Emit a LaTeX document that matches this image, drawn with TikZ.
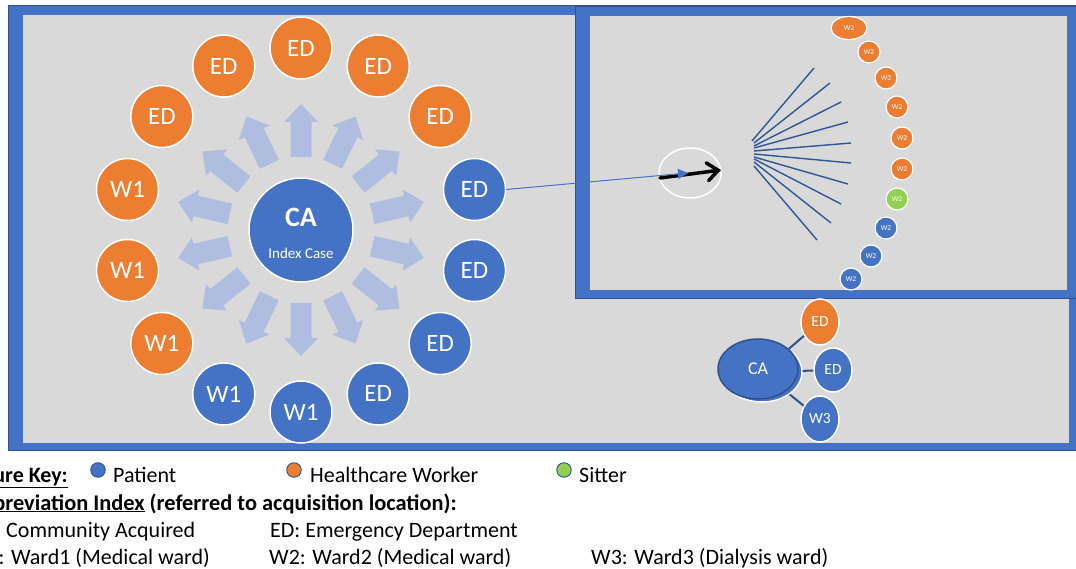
\documentclass[tikz,border=0pt]{standalone}
\usepackage{fontspec}
\setmainfont{Carlito}
\usetikzlibrary{arrows.meta,shapes.geometric}
\definecolor{frameblue}{HTML}{4472C4}
\definecolor{framedark}{HTML}{2F528F}
\definecolor{bggray}{HTML}{D9D9D9}
\definecolor{orng}{HTML}{ED7D31}
\definecolor{pblue}{HTML}{4472C4}
\definecolor{sgreen}{HTML}{92D050}
\definecolor{arrowcol}{HTML}{AFBEE0}
\definecolor{fanblue}{HTML}{2F5597}
\begin{document}
\begin{tikzpicture}[x=1pt,y=-1pt,
  ring/.style={circle,draw=white,line width=1.5pt,minimum size=62pt,inner sep=0pt,text=white,font=\fontsize{25}{30}\selectfont},
  wtwo/.style={circle,draw=white,line width=1.2pt,minimum size=22pt,inner sep=0pt,text=white,font=\fontsize{7.5}{8}\selectfont},
  small/.style={ellipse,draw=white,line width=1.5pt,minimum width=38pt,minimum height=46pt,inner sep=0pt,text=white,font=\fontsize{15.5}{18}\selectfont},
  fan/.style={draw=fanblue,line width=1.4pt},
  link/.style={draw=framedark,line width=2pt},
  keydot/.style={circle,draw=framedark,line width=0.9pt,minimum size=14.5pt,inner sep=0pt},
  legend/.style={inner sep=0pt,font=\fontsize{22}{26}\selectfont}]
\useasboundingbox (0,0) rectangle (1076,569);
\fill[white] (0,0) rectangle (1076,569);
% outer frame
\filldraw[fill=frameblue,draw=framedark,line width=1pt] (8,6) rectangle (1077,450);
\fill[bggray] (23,15) rectangle (1069,443);
% inset frame
\filldraw[fill=frameblue,draw=framedark,line width=1pt] (575,7) rectangle (1077,299);
\fill[bggray] (590,16) rectangle (1067,290);
% radial arrows
\foreach \k in {0,...,13}{
  \pgfmathsetmacro\ang{90-\k*360/14}
  \fill[arrowcol,shift={(301,230)},rotate=\ang] (73,-10.5) -- (108,-10.5) -- (108,-17) -- (126,0) -- (108,17) -- (108,10.5) -- (73,10.5) -- cycle;
}
% ring of contacts
\foreach \k/\lab/\col in {0/ED/orng,1/ED/orng,2/ED/orng,3/ED/pblue,4/ED/pblue,5/ED/pblue,6/ED/pblue,7/W1/pblue,8/W1/pblue,9/W1/orng,10/W1/orng,11/W1/orng,12/ED/orng,13/ED/orng}{
  \pgfmathsetmacro\ang{90-\k*360/14}
  \node[ring,fill=\col] (r\k) at ({301+178*cos(\ang)},{230-182*sin(\ang)}) {\lab};
}
% index case
\node[circle,fill=pblue,draw=white,line width=1.5pt,minimum size=104pt,inner sep=0pt] (ca) at (301,230) {};
\node[text=white,inner sep=0pt,font=\bfseries\fontsize{28}{32}\selectfont] (catitle) at (301,217) {CA};
\node[text=white,inner sep=0pt,font=\fontsize{15}{18}\selectfont] (casub) at (301,253) {Index Case};
% inset content
\node[ellipse,draw=white,line width=1.5pt,minimum width=62pt,minimum height=50pt] (focus) at (690,173) {};
\coordinate (bs) at (660,178);
\coordinate (be) at (721,170);
\draw[line width=3.5pt,line cap=round,-{Straight Barb[length=11pt,width=18pt,line cap=round]}] (bs) -- (be);
\coordinate (btip) at (688,173);
\draw[pblue,line width=1pt,-{Triangle[length=10pt,width=10pt]}] (r3.east) -- (btip);
\foreach \i/\sx/\sy/\ex/\ey in {1/752/141/814/68,2/754/143/830/83,3/754/146/841/102,4/754/148/848/122,5/754/151/851/143,6/754/154/851/163,7/754/157/848/184,8/754/159/841/204,9/754/162/831/223,10/754/166/817/240}{
  \coordinate (fs\i) at (\sx,\sy);
  \coordinate (fe\i) at (\ex,\ey);
  \draw[fan] (fs\i) -- (fe\i);
}
\node[wtwo,ellipse,fill=orng,minimum width=36pt,minimum height=23pt] (w2a) at (849,28) {W2};
\foreach \n/\px/\py/\col in {b/869/52/orng,c/886/78/orng,d/897/107/orng,e/902/138/orng,f/902/169/orng,g/897/199/sgreen,h/886/228/pblue,i/871/256/pblue,j/851/279/pblue}{
  \node[wtwo,fill=\col] (w2\n) at (\px,\py) {W2};
}
% second cluster
\node[ellipse,fill=pblue,draw=white,line width=1.5pt,minimum width=80pt,minimum height=60pt] (cab) at (762,372) {};
\node[ellipse,fill=pblue,draw=framedark,line width=1.5pt,minimum width=80pt,minimum height=60pt,text=white,font=\fontsize{18}{22}\selectfont] (ca2) at (758,369) {CA};
\node[small,fill=orng] (edo) at (820,322) {ED};
\node[small,fill=pblue,minimum height=44pt] (edb) at (833,370) {ED};
\node[small,fill=pblue] (wthree) at (820,419) {W3};
\draw[link] (cab) -- (edo);
\draw[link] (cab) -- (edb);
\draw[link] (cab) -- (wthree);
% legend
\node[legend,anchor=base east] (keyt) at (68,482) {\textbf{\underline{ure Key:}}};
\node[keydot,fill=pblue] (kpat) at (98,470) {};
\node[legend,anchor=base west] (tpat) at (113,482) {Patient};
\node[keydot,fill=orng] (khcw) at (294,470) {};
\node[legend,anchor=base west] (thcw) at (310,482) {Healthcare Worker};
\node[keydot,fill=sgreen] (ksit) at (564,470) {};
\node[legend,anchor=base west] (tsit) at (579,482) {Sitter};
\node[legend,anchor=base east,font=\fontsize{22.4}{26}\selectfont] (abbr) at (457,510) {\textbf{\underline{breviation Index} (referred to acquisition location):}};
\node[legend,anchor=base west] (tca) at (6,537) {Community Acquired};
\node[legend,anchor=base west] (ted) at (270,537) {ED: Emergency Department};
\node[legend,anchor=base east] (tw1) at (210,564) {: Ward1 (Medical ward)};
\node[legend,anchor=base west] (tw2) at (269,564) {W2: Ward2 (Medical ward)};
\node[legend,anchor=base west] (tw3) at (591,564) {W3: Ward3 (Dialysis ward)};
\end{tikzpicture}
\end{document}
